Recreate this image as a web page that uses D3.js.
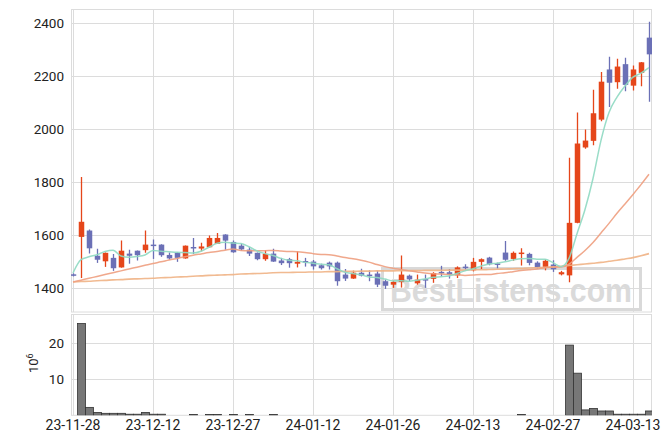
<!DOCTYPE html>
<html><head><meta charset="utf-8">
<script src="https://cdn.jsdelivr.net/npm/d3@7"></script>
<style>body{margin:0;background:#fff} text{font-family:Roboto, "Liberation Sans", sans-serif}</style>
</head><body><svg id="c" width="671" height="444"></svg>
<script>
const dates = ["23-11-28","23-11-29","23-11-30","23-12-01","23-12-04","23-12-05","23-12-06","23-12-07","23-12-08","23-12-11",
"23-12-12","23-12-13","23-12-14","23-12-15","23-12-18","23-12-19","23-12-20","23-12-21","23-12-22","23-12-26",
"23-12-27","23-12-28","24-01-02","24-01-03","24-01-04","24-01-05","24-01-08","24-01-09","24-01-10","24-01-11",
"24-01-12","24-01-15","24-01-16","24-01-17","24-01-18","24-01-19","24-01-22","24-01-23","24-01-24","24-01-25",
"24-01-26","24-01-29","24-01-30","24-01-31","24-02-01","24-02-02","24-02-05","24-02-06","24-02-07","24-02-08",
"24-02-13","24-02-14","24-02-15","24-02-16","24-02-19","24-02-20","24-02-21","24-02-22","24-02-23","24-02-26",
"24-02-27","24-02-28","24-02-29","24-03-04","24-03-05","24-03-06","24-03-07","24-03-08","24-03-11","24-03-12",
"24-03-13","24-03-14","24-03-15"];
const open  = [1452,1593,1617,1522,1501,1514,1478,1530,1541,1543,1564,1564,1525,1533,1512,1555,1549,1554,1567,1602,
1574,1560,1545,1533,1509,1530,1504,1509,1492,1502,1500,1486,1496,1496,1451,1436,1458,1451,1455,1426,
1413,1423,1447,1418,1434,1435,1461,1460,1448,1481,1467,1499,1515,1493,1534,1510,1531,1529,1496,1480,
1489,1452,1448,1646,1930,1955,2035,2224,2176,2244,2163,2211,2344];
const high  = [1456,1819,1621,1548,1534,1529,1579,1545,1542,1617,1583,1565,1534,1535,1561,1589,1571,1598,1608,1603,
1579,1567,1555,1534,1544,1548,1514,1514,1539,1514,1506,1492,1500,1500,1472,1466,1473,1467,1466,1432,
1428,1523,1451,1451,1451,1460,1484,1472,1482,1490,1514,1512,1518,1496,1578,1538,1550,1533,1501,1508,
1505,1465,1891,2062,1998,2148,2214,2272,2264,2268,2239,2252,2404];
const low   = [1444,1438,1530,1495,1480,1465,1477,1492,1504,1533,1510,1518,1507,1499,1511,1529,1539,1553,1566,1545,
1533,1541,1521,1505,1503,1499,1487,1477,1478,1481,1470,1470,1470,1409,1427,1435,1444,1426,1404,1397,
1401,1402,1426,1413,1401,1420,1444,1436,1438,1470,1463,1472,1486,1474,1503,1503,1485,1486,1474,1467,
1461,1448,1422,1644,1925,1938,2029,2083,2151,2142,2145,2161,2102];
const close = [1448,1650,1550,1507,1533,1475,1541,1522,1524,1564,1561,1524,1512,1514,1560,1551,1557,1589,1589,1579,
1535,1546,1530,1509,1529,1500,1494,1494,1499,1500,1482,1475,1482,1426,1436,1458,1447,1445,1413,1409,
1423,1451,1433,1432,1432,1457,1459,1451,1478,1479,1499,1509,1490,1491,1507,1533,1534,1495,1478,1503,
1471,1460,1646,1945,1956,2059,2178,2174,2235,2166,2224,2251,2281];
const volume = [0,25.5,2.2,0.8,0.55,0.55,0.55,0.3,0.3,0.8,0.3,0.3,0,0,0,0.2,0,0.2,0.2,0,
0.2,0,0.2,0,0,0.2,0,0,0,0,0,0,0,0,0,0,0,0,0,0,
0,0,0,0,0,0,0,0,0,0,0,0,0,0,0,0,0.2,0,0,0,
0,0,19.5,11.7,1.5,1.9,1.2,1.2,0.3,0.3,0.3,0.3,1.2];
const ma5 = [1457,1507,1518,1526,1538,1543,1521,1516,1519,1525,1542,1539,1537,1535,1534,1532,1539,1554,1569,1573,
1570,1568,1556,1540,1530,1523,1512,1505,1503,1497,1494,1490,1488,1473,1460,1455,1450,1442,1440,1434,
1427,1428,1426,1430,1434,1441,1443,1446,1455,1465,1473,1483,1491,1494,1499,1506,1511,1512,1509,1509,
1496,1481,1512,1605,1696,1813,1957,2062,2120,2162,2195,2210,2231];
const ma20 = [1423,1430,1437,1444,1451,1458,1465,1472,1479,1486,1493,1499,1506,1512,1518,1524,1529,1534,1538,1543,
1547,1542,1541,1541,1541,1542,1540,1538,1537,1534,1530,1527,1526,1521,1515,1511,1505,1498,1489,1481,
1475,1470,1465,1461,1457,1454,1453,1451,1450,1448,1449,1451,1451,1455,1458,1462,1466,1469,1472,1477,
1479,1480,1490,1516,1542,1572,1608,1644,1682,1717,1753,1790,1829];
const maLong = [1423,1425,1426,1428,1429,1431,1432,1434,1435,1436,1437,1439,1440,1442,1443,1445,1446,1448,1449,1450,
1451,1453,1454,1455,1456,1458,1459,1459,1460,1460,1461,1461,1462,1462,1463,1463,1464,1464,1465,1465,
1465,1466,1466,1466,1467,1467,1467,1468,1468,1468,1469,1469,1470,1471,1472,1473,1474,1476,1477,1478,
1480,1482,1485,1488,1491,1494,1497,1501,1505,1510,1515,1522,1530];
const priceTicks = [1400,1600,1800,2000,2200,2400];
const volTicks = [10,20];
const labelEvery = 10;

const svg = d3.select("#c");
const L = 71, R = 652;
const x = d3.scaleBand().domain(dates).range([69, 653]).padding(0);
const cx = d => x(d) + x.bandwidth()/2;
const y = d3.scaleLinear().domain([1310, 2450]).range([312, 9.5]);
const yv = d3.scaleLinear().domain([0, 28]).range([415.3, 314.5]);
const gridC = "#dcdcdc";

svg.append("defs").append("clipPath").attr("id","cp").append("rect").attr("x",L).attr("y",9.5).attr("width",R-L).attr("height",312-9.5);
svg.select("defs").append("clipPath").attr("id","cv").append("rect").attr("x",L).attr("y",314.5).attr("width",R-L).attr("height",415.3-314.5);

const tickDates = dates.filter((d,i)=>i%labelEvery===0);
// grids main
const g = svg.append("g");
g.selectAll(".hg").data(priceTicks).join("line").attr("x1",L).attr("x2",R)
 .attr("y1",d=>Math.round(y(d))+0.5).attr("y2",d=>Math.round(y(d))+0.5).attr("stroke",gridC);
g.selectAll(".vg").data(tickDates).join("line").attr("y1",9.5).attr("y2",312)
 .attr("x1",d=>Math.round(cx(d))+0.5).attr("x2",d=>Math.round(cx(d))+0.5).attr("stroke",gridC);
g.append("rect").attr("x",L+0.5).attr("y",9.5).attr("width",R-L-1).attr("height",312-9.5).attr("fill","none").attr("stroke",gridC);
// grids volume
g.selectAll(".hv").data(volTicks).join("line").attr("x1",L).attr("x2",R)
 .attr("y1",d=>Math.round(yv(d))+0.5).attr("y2",d=>Math.round(yv(d))+0.5).attr("stroke",gridC);
g.selectAll(".vv").data(tickDates).join("line").attr("y1",314.5).attr("y2",415.3)
 .attr("x1",d=>Math.round(cx(d))+0.5).attr("x2",d=>Math.round(cx(d))+0.5).attr("stroke",gridC);
g.append("rect").attr("x",L+0.5).attr("y",314.5).attr("width",R-L-1).attr("height",415.3-314.5).attr("fill","none").attr("stroke",gridC);

// watermark
const wm = svg.append("g");
wm.append("rect").attr("x",382.5).attr("y",268.5).attr("width",258).attr("height",41).attr("fill","none").attr("stroke","#d9d9d9").attr("stroke-width",3);
wm.append("text").attr("x",390).attr("y",302).attr("font-size",34).attr("font-weight","bold").attr("fill","#dadada")
 .attr("textLength",242).attr("lengthAdjust","spacingAndGlyphs")
 .style("font-family","'Liberation Sans', Arial, sans-serif").text("BestListens.com");

// candles
const UP = "#e5461a", DN = "#6b70b6";
const data = dates.map((d,i)=>({d, o:open[i], h:high[i], l:low[i], c:close[i], v:volume[i]}));
const cg = svg.append("g").attr("clip-path","url(#cp)");
cg.selectAll(".w").data(data).join("line")
 .attr("x1",d=>Math.round(cx(d.d))+0.5).attr("x2",d=>Math.round(cx(d.d))+0.5)
 .attr("y1",d=>y(d.h)).attr("y2",d=>y(d.l))
 .attr("stroke",d=>d.c>=d.o?UP:DN).attr("stroke-width",1.3);
cg.selectAll(".b").data(data).join("rect")
 .attr("x",d=>Math.round(cx(d.d))+0.5-2.75).attr("width",5.5)
 .attr("y",d=>y(Math.max(d.o,d.c))).attr("height",d=>Math.max(1.5, Math.abs(y(d.o)-y(d.c))))
 .attr("fill",d=>d.c>=d.o?UP:DN);

// moving averages
const line = arr => d3.line().x((v,i)=>cx(dates[i])).y(v=>y(v)).curve(d3.curveMonotoneX)(arr);
cg.append("path").attr("d",line(maLong)).attr("fill","none").attr("stroke","#f0b285").attr("stroke-width",1.6).attr("opacity",0.9);
cg.append("path").attr("d",line(ma20)).attr("fill","none").attr("stroke","#ee9f80").attr("stroke-width",1.5).attr("opacity",0.9);
cg.append("path").attr("d",line(ma5)).attr("fill","none").attr("stroke","#8fd9c2").attr("stroke-width",1.5).attr("opacity",0.9);

// volume
const vg = svg.append("g").attr("clip-path","url(#cv)");
vg.selectAll("rect").data(data.filter(d=>d.v>0)).join("rect")
 .attr("x",d=>x(d.d)+0.5).attr("width",x.bandwidth())
 .attr("y",d=>yv(d.v)).attr("height",d=>yv(0)-yv(d.v))
 .attr("fill","#777").attr("stroke","#333").attr("stroke-width",0.8);

// axes
const ya = svg.append("g").attr("transform",`translate(${L},0)`)
 .call(d3.axisLeft(y).tickValues(priceTicks).tickFormat(d3.format("d")).tickSize(0).tickPadding(7));
ya.select(".domain").remove();
ya.selectAll("text").attr("font-size",13.5).attr("fill","#222").style("font-family","Roboto, sans-serif");
const yva = svg.append("g").attr("transform",`translate(${L},0)`)
 .call(d3.axisLeft(yv).tickValues(volTicks).tickFormat(d3.format("d")).tickSize(0).tickPadding(7));
yva.select(".domain").remove();
yva.selectAll("text").attr("font-size",13.5).attr("fill","#222").style("font-family","Roboto, sans-serif");
const xa = svg.append("g").attr("transform",`translate(0,415.3)`)
 .call(d3.axisBottom(x).tickValues(tickDates).tickSize(0).tickPadding(5));
xa.select(".domain").remove();
xa.selectAll("text").attr("font-size",14).attr("fill","#222").style("font-family","Roboto, sans-serif");

const vl = svg.append("text").attr("transform","translate(38,373) rotate(-90)").attr("font-size",13).attr("fill","#222");
vl.append("tspan").text("10");
vl.append("tspan").attr("dy",-5).attr("font-size",9).text("6");
</script></body></html>
